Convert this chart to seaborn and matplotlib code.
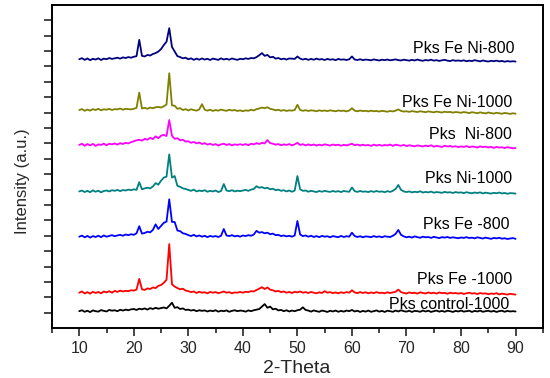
import numpy as np
import matplotlib
matplotlib.use("Agg")
import matplotlib.pyplot as plt
import seaborn as sns

# 2-theta grid, 0.5 degree steps from 10 to 90
two_theta = np.arange(10, 90.5, 0.5)

labels = ["Pks control-1000", "Pks Fe -1000", "Pks Fe -800", "Pks Ni-1000",
          "Pks  Ni-800", "Pks Fe Ni-1000", "Pks Fe Ni-800"]
colors = ["#000000", "#ff0000", "#0000ff", "#008080", "#ff00ff", "#808000", "#000080"]

# stacking offsets (counts) of each pattern
offsets = [110, 230, 594, 888, 1190, 1417, 1747]

# intensities, relative to each offset (counts)
control_1000 = [
    0, 6, -4, 3, -6, 5, 0, -3, 7, 2, -2, 8, 3, 6, 0, 9, 4, 10, 6, 12,
    14, 8, 16, 12, 18, 10, 20, 14, 22, 16, 20, 24, 18, 35, 55, 22, 26, 14, 18, 8,
    10, 4, 8, 0, 6, 2, 5, -2, 4, 0, 6, -3, 3, 0, 5, -4, 2, 6, 0, 4,
    2, -3, 5, 0, 6, 10, 14, 30, 46, 22, 30, 12, 16, 5, 8, 0, 6, -2, 4, 0,
    6, 10, 25, 8, 4, -3, 5, 0, -4, 4, 0, -5, 3, -2, 4, -4, 2, -3, 4, 0,
    8, -2, 3, -5, 2, -3, 4, -4, 0, 5, -3, 2, -5, 3, 0, -4, 4, -2, 6, 0,
    -3, 3, -5, 2, 0, -4, 4, -2, 3, -5, 0, 4, -3, 2, -4, 3, 0, -5, 2, -2,
    4, -3, 0, 3, -5, 2, -2, 4, -4, 0, 3, -3, 2, -5, 0, 3, -4, 2, -2, 0,
    -2]
fe_1000 = [
    0, 8, -5, 4, -6, 6, -2, 5, -4, 8, 2, 10, 0, 12, 5, 14, 8, 12, 10, 16,
    14, 20, 90, 22, 18, 28, 24, 34, 30, 44, 50, 64, 84, 316, 55, 40, 30, 22, 26, 14,
    10, 4, 8, -2, 6, 0, 3, -4, 5, 0, 4, -3, 2, 8, 0, 4, -4, 2, 0, 5,
    0, 6, 4, 10, 8, 18, 26, 36, 24, 34, 20, 16, 8, 12, 4, 8, 0, 5, -2, 6,
    2, 8, 0, 4, -2, 5, 0, -4, 3, -2, 10, 0, 4, -3, 2, -4, 3, -2, 4, 0,
    16, 2, -3, 4, -2, 3, -4, 2, -3, 4, -2, 0, -4, 3, -2, 2, 6, 20, 4, -2,
    -5, 2, -3, 0, -6, 3, -2, -5, 2, -4, 0, -6, 2, -3, -1, -7, 0, -4, -2, -6,
    -2, -8, -4, 0, -6, -3, -9, -2, -6, -4, -10, -5, -8, -3, -11, -6, -9, -12, -7, -10,
    -12]
fe_800 = [
    0, 7, -4, 5, -6, 4, -2, 6, -3, 8, 0, 5, 10, 3, 8, 12, 6, 14, 10, 16,
    12, 22, 68, 20, 24, 32, 28, 44, 80, 50, 70, 90, 98, 243, 96, 95, 40, 36, 22, 18,
    10, 4, 12, 2, 8, 0, 6, -3, 5, 0, 4, -2, 6, 50, 8, 4, 10, 2, 6, 0,
    8, 4, 10, 6, 14, 38, 26, 30, 22, 26, 16, 20, 10, 12, 4, 8, 2, 6, 0, 8,
    102, 14, 4, 8, 0, 6, -2, 4, -3, 5, 0, 3, -4, 4, 0, -3, 5, -2, 3, 0,
    26, 4, -2, 3, -4, 2, 0, -3, 4, -2, 2, -4, 3, 0, -2, 6, 18, 44, 12, 2,
    -4, 0, -6, 2, -3, -7, 0, -4, -2, -8, -1, -5, -9, -3, -6, -2, -8, -4, -7, -10,
    -5, -8, -3, -9, -6, -11, -4, -8, -12, -6, -10, -14, -8, -11, -7, -13, -10, -15, -12, -9,
    -14]
ni_1000 = [
    0, 6, -4, 4, -5, 7, -2, 5, -6, 3, 6, 0, 8, 4, 10, 2, 9, 6, 12, 8,
    14, 10, 60, 14, 20, 24, 20, 32, 54, 44, 70, 90, 96, 241, 90, 100, 36, 30, 20, 16,
    10, 4, 12, 0, 6, 2, 8, -2, 4, 0, 6, -4, 3, 48, 6, 2, 8, 0, 5, 2,
    6, 10, 4, 12, 16, 34, 24, 28, 20, 24, 14, 18, 8, 12, 4, 8, 0, 6, -2, 6,
    100, 14, 4, 6, -2, 4, 0, -4, 3, -2, 4, 0, -3, 3, -2, 2, -4, 3, 0, -2,
    26, 2, -3, 3, -2, 0, -4, 2, -3, 3, -2, 0, -5, 2, -3, 4, 16, 42, 10, 0,
    -4, 0, -6, -2, -5, 1, -7, -3, -6, -1, -8, -4, -6, -9, -3, -7, -5, -10, -4, -8,
    -6, -11, -5, -9, -12, -7, -10, -6, -13, -8, -11, -14, -9, -12, -7, -13, -10, -15, -11, -12,
    -14]
ni_800 = [
    0, 8, -5, 6, -3, 7, -6, 4, 0, 9, -2, 8, 4, 10, 2, 12, 6, 14, 10, 18,
    24, 30, 34, 28, 40, 34, 46, 38, 56, 44, 60, 66, 58, 162, 60, 40, 44, 30, 34, 22,
    24, 14, 20, 10, 16, 6, 12, 2, 8, 0, 6, -4, 4, 8, 0, 6, -3, 4, 0, 5,
    0, 6, -2, 8, 4, 12, 6, 14, 10, 32, 12, 8, 2, 6, -2, 4, 0, 6, -3, 4,
    14, 0, 5, -3, 4, -2, 3, -4, 2, -3, 4, 0, -4, 3, -2, 2, -5, 1, -3, 2,
    8, -2, 3, -4, 2, -3, 0, -6, 2, -4, 1, -5, 0, -3, 3, -6, 2, -2, -5, 0,
    -7, -2, -5, -9, -3, -6, -10, -4, -8, -2, -11, -6, -9, -13, -5, -10, -7, -12, -8, -14,
    -9, -13, -7, -15, -10, -12, -17, -9, -14, -11, -16, -12, -19, -13, -17, -15, -20, -14, -18, -22,
    -20]
feni_1000 = [
    0, 6, -5, 3, -4, 6, 0, 8, -2, 5, 2, 8, 0, 6, 4, 10, 2, 8, 6, 4,
    8, 14, 113, 10, 14, 8, 16, 12, 18, 20, 16, 24, 36, 239, 30, 28, 8, 12, 0, 6,
    -3, 5, 0, -4, 4, 38, 2, -4, 2, -6, 0, -4, 3, -2, -5, 2, -3, 0, -6, -2,
    -8, -2, -5, 2, -3, 6, 10, 16, 12, 18, 8, 4, -2, 2, -5, 0, -6, -2, -4, 0,
    34, 0, -5, -1, -6, -2, -4, -8, -2, -6, -3, -7, -2, -5, -8, -3, -6, -4, -9, -3,
    12, -4, -8, -3, -7, -5, -9, -4, -8, -6, -10, -5, -8, -11, -6, -9, -4, 4, -6, -10,
    -8, -12, -7, -10, -13, -8, -11, -14, -9, -12, -15, -10, -13, -16, -11, -14, -12, -17, -13, -15,
    -18, -13, -16, -20, -14, -17, -21, -15, -19, -22, -16, -20, -23, -18, -21, -24, -19, -22, -25, -21,
    -24]
feni_800 = [
    0, 7, -4, 5, -6, 3, -2, 6, -5, 4, 0, 8, 2, 6, 10, 4, 12, 8, 14, 10,
    16, 20, 126, 22, 18, 28, 24, 34, 40, 50, 66, 92, 114, 202, 80, 50, 20, 14, 6, 10,
    0, 6, -4, 4, -3, 5, -2, 3, -5, 4, 0, -4, 6, -2, 3, -3, 5, 0, -4, 3,
    0, 6, 2, 8, 6, 14, 26, 40, 22, 28, 12, 16, 4, 8, 0, 4, -2, 5, 4, 2,
    18, 4, -2, 3, -4, 2, -3, 4, -2, 1, -5, 2, -3, 0, -6, 2, -3, -1, -5, 0,
    18, -2, -5, 0, -6, -2, -4, -7, -1, -5, -8, -3, -6, -2, -7, -4, -1, -6, -8, -3,
    -6, -9, -4, -8, -2, -7, -10, -5, -8, -3, -9, -6, -11, -7, -4, -9, -12, -6, -10, -8,
    -11, -7, -13, -9, -12, -6, -10, -14, -8, -12, -15, -10, -13, -9, -14, -11, -16, -12, -15, -13,
    -15]

patterns = [control_1000, fe_1000, fe_800, ni_1000, ni_800, feni_1000, feni_800]

sns.set_style("ticks")
plt.rcParams['font.family'] = ['Liberation Sans', 'DejaVu Sans']

fig = plt.figure(figsize=(5.5, 3.78), dpi=100)
ax = fig.add_axes([0.0945, 0.132, 0.8925, 0.855])

for vals, off, col in zip(patterns, offsets, colors):
    y = off + np.array(vals)
    sns.lineplot(x=two_theta, y=y, color=col, linewidth=1.3, ax=ax,
                 estimator=None, sort=False)

# sample names, right aligned above each pattern
label_y = [156, 319, 670, 969, 1261, 1469, 1820]
label_x = [88.9, 89.3, 88.9, 89.3, 89.3, 89.4, 89.8]
for name, lx, ly in zip(labels, label_x, label_y):
    ax.text(lx, ly, name, ha='right', va='center', fontsize=11.5, color='black')

ax.set_xlim(5, 95)
ax.set_ylim(0, 2100)
ax.set_xticks(range(10, 100, 10))
ax.set_xticks(range(5, 100, 10), minor=True)
ax.set_yticks(range(100, 2100, 100))
ax.set_yticklabels([])
ax.tick_params(axis='x', which='major', direction='out', length=6, width=1.2,
               labelsize=11.5, pad=3)
ax.tick_params(axis='x', which='minor', direction='out', length=3.5, width=1.2)
ax.tick_params(axis='y', direction='out', length=6, width=1.2)
for side in ['left', 'right', 'top', 'bottom']:
    ax.spines[side].set_visible(True)
    ax.spines[side].set_linewidth(1.4)
    ax.spines[side].set_color('black')

ax.set_xlabel('2-Theta', fontsize=14)
ax.set_ylabel('Intensity (a.u.)', fontsize=12)
ax.xaxis.set_label_coords(0.499, -0.1)
ax.yaxis.set_label_coords(-0.045, 0.455)

fig.savefig('out.png', dpi=100)
